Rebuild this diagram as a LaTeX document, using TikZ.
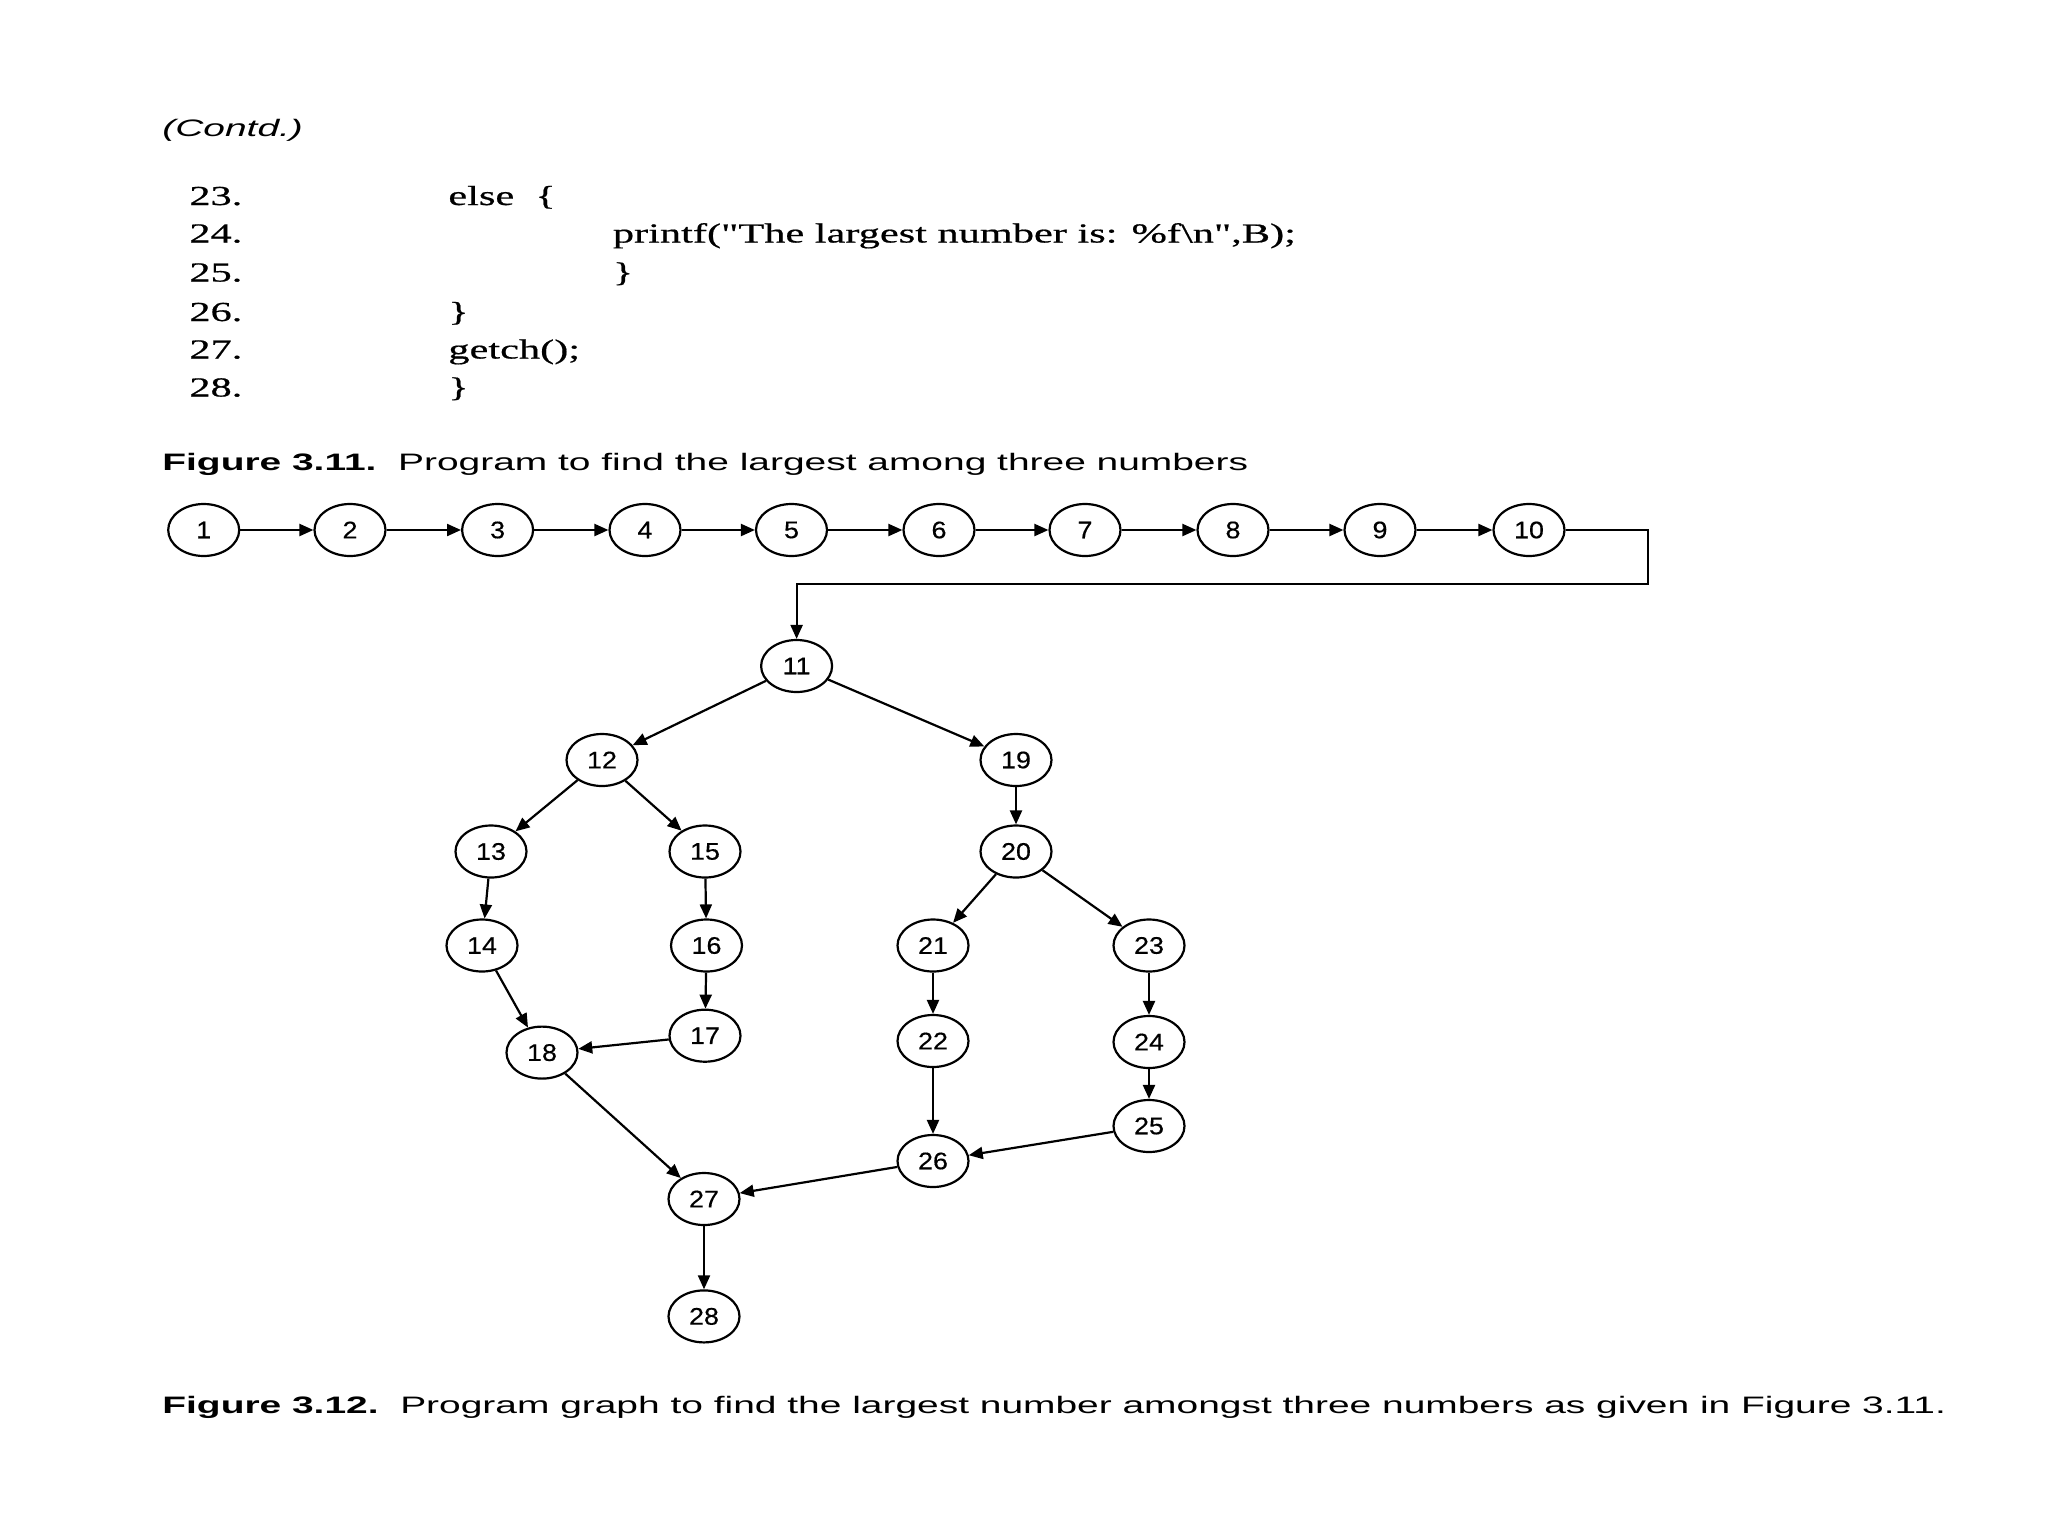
\documentclass[tikz,border=0pt]{standalone}
\usepackage{fontspec}
\setmainfont{Liberation Serif}
\newfontfamily\codefont[FakeStretch=1.54,FakeBold=0.6]{Liberation Serif}
\newfontfamily\capfont[FakeStretch=1.635]{Liberation Sans}
\newfontfamily\numfont[FakeStretch=1.12,FakeBold=0.4]{Liberation Sans}
\usetikzlibrary{shapes.geometric,arrows.meta}
\begin{document}
\begin{tikzpicture}[x=0.5pt,y=-0.5pt,
  vx/.style={ellipse,draw,line width=1.1pt,minimum width=35.5pt,minimum height=26pt,inner sep=0pt,
    font=\numfont\fontsize{12pt}{14pt}\selectfont},
  edge/.style={line width=1.1pt,-{Triangle[length=7pt,width=6pt]}},
  codetxt/.style={anchor=base west,inner sep=0pt,font=\codefont\fontsize{13.75pt}{16pt}\selectfont},
  captxt/.style={anchor=base west,inner sep=0pt,font=\capfont\fontsize{11.9pt}{14pt}\selectfont}]
\useasboundingbox (0,0) rectangle (2048,1536);
\fill[white] (0,0) rectangle (2048,1536);

% header and code
\node[captxt] (contd) at (162,136) {\itshape(Contd.)};
\node[codetxt] (l23) at (189,205) {23.};
\node[codetxt] (l24) at (189,242.5) {24.};
\node[codetxt] (l25) at (189,281.5) {25.};
\node[codetxt] (l26) at (189,321) {26.};
\node[codetxt] (l27) at (189,358.5) {27.};
\node[codetxt] (l28) at (189,396.5) {28.};
\node[codetxt] (c23) at (448,205) {else~~\{};
\node[codetxt] (c24) at (612.5,242.5) {printf("The largest number is: \%f\textbackslash n",B);};
\node[codetxt] (c25) at (612.5,281.5) {\}};
\node[codetxt] (c26) at (448,321) {\}};
\node[codetxt] (c27) at (448,358.5) {getch();};
\node[codetxt] (c28) at (448,396.5) {\}};
\node[captxt] (cap1) at (162,470) {\textbf{Figure 3.11.}~~Program to find the largest among three numbers};
\node[captxt] (cap2) at (162,1413) {\textbf{Figure 3.12.}~~Program graph to find the largest number amongst three numbers as given in Figure 3.11.};

% top row
\node[vx] (n1) at (203.7,530) {1};
\node[vx] (n2) at (350,530) {2};
\node[vx] (n3) at (497.6,530) {3};
\node[vx] (n4) at (645,530) {4};
\node[vx] (n5) at (791.5,530) {5};
\node[vx] (n6) at (939,530) {6};
\node[vx] (n7) at (1085,530) {7};
\node[vx] (n8) at (1233,530) {8};
\node[vx] (n9) at (1380,530) {9};
\node[vx] (n10) at (1529,530) {10};

\node[vx] (n11) at (796.6,666) {11};
\node[vx] (n12) at (602,760) {12};
\node[vx] (n19) at (1016,760) {19};
\node[vx] (n13) at (491,851.5) {13};
\node[vx] (n15) at (705,851.5) {15};
\node[vx] (n20) at (1016,851.5) {20};
\node[vx] (n14) at (482,945.5) {14};
\node[vx] (n16) at (706.5,945.5) {16};
\node[vx] (n21) at (933,945.5) {21};
\node[vx] (n23) at (1149,945.5) {23};
\node[vx] (n17) at (705,1035.7) {17};
\node[vx] (n18) at (542,1052.6) {18};
\node[vx] (n22) at (933,1041) {22};
\node[vx] (n24) at (1149,1042) {24};
\node[vx] (n25) at (1149,1126) {25};
\node[vx] (n26) at (933,1161) {26};
\node[vx] (n27) at (704,1199) {27};
\node[vx] (n28) at (704,1316.4) {28};

\coordinate (bend) at (1648,584);

\foreach \a/\b in {1/2,2/3,3/4,4/5,5/6,6/7,7/8,8/9,9/10}
  \draw[edge] (n\a) -- (n\b);
\draw[edge] (n10.east) -| (bend) -| (n11.north);
\foreach \a/\b in {11/12,11/19,12/13,12/15,19/20,13/14,15/16,20/21,20/23,14/18,16/17,17/18,21/22,23/24,24/25,22/26,25/26,18/27,26/27,27/28}
  \draw[edge] (n\a) -- (n\b);
\end{tikzpicture}
\end{document}
